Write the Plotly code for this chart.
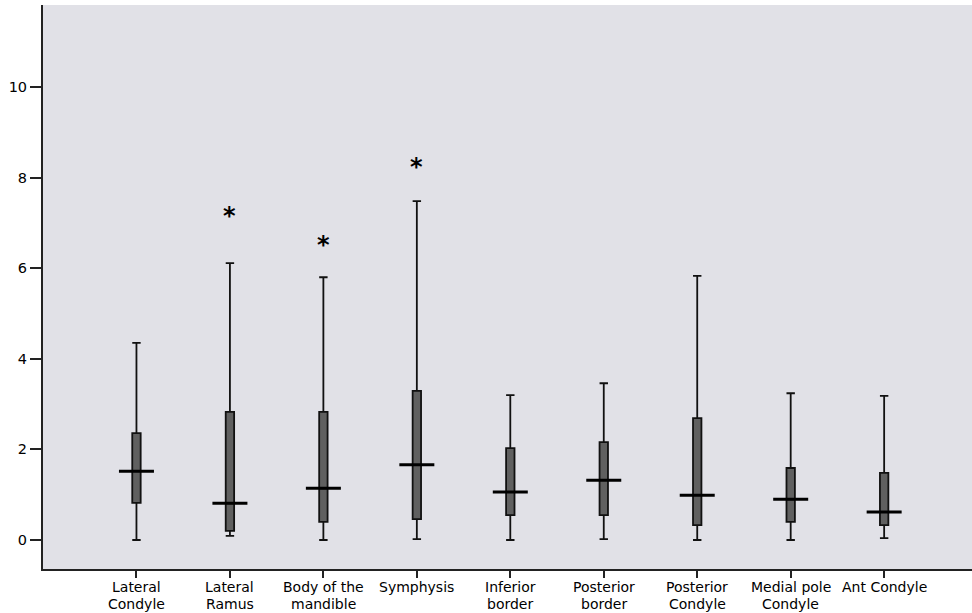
import plotly.graph_objects as go

categories = ["Lateral\nCondyle", "Lateral\nRamus", "Body of the\nmandible", "Symphysis",
              "Inferior\nborder", "Posterior\nborder", "Posterior\nCondyle",
              "Medial pole\nCondyle", "Ant Condyle"]
lower = [0.0, 0.09, 0.0, 0.02, 0.0, 0.02, 0.0, 0.0, 0.04]
q1 = [0.82, 0.20, 0.40, 0.46, 0.55, 0.55, 0.33, 0.40, 0.33]
median = [1.52, 0.81, 1.14, 1.66, 1.06, 1.32, 0.99, 0.90, 0.62]
q3 = [2.36, 2.83, 2.83, 3.29, 2.03, 2.16, 2.69, 1.59, 1.48]
upper = [4.35, 6.11, 5.80, 7.48, 3.20, 3.46, 5.83, 3.24, 3.18]
outlier_cat = [1, 2, 3]
outlier_val = [7.24, 6.60, 8.32]
y_ticks = [0, 2, 4, 6, 8, 10]

FONT = "DejaVu Sans, Liberation Sans, Arial, sans-serif"
xs = list(range(len(categories)))

fig = go.Figure()
fig.add_trace(go.Box(
    x=xs, q1=q1, median=median, q3=q3, lowerfence=lower, upperfence=upper,
    width=0.09, whiskerwidth=1.0,
    fillcolor="#606060", line=dict(color="#111111", width=1.8),
    boxpoints=False, showlegend=False, hoverinfo="skip",
))
fig.add_trace(go.Scatter(
    x=xs, y=median, mode="markers",
    marker=dict(symbol="line-ew", size=25, line=dict(color="#000000", width=3)),
    showlegend=False, hoverinfo="skip",
))

# outlier asterisks
for c, v in zip(outlier_cat, outlier_val):
    fig.add_annotation(x=c, y=v, xref="x", yref="y", text="<b>*</b>", showarrow=False,
                       font=dict(family=FONT, size=24, color="#000000"), yshift=-4)

# two-line category labels with tight line spacing
for i, lab in enumerate(categories):
    lines = lab.split("\n")
    for j, ln in enumerate(lines):
        fig.add_annotation(x=i, y=0, xref="x", yref="paper", text=ln, showarrow=False,
                           xanchor="center", yanchor="middle", yshift=-18 - 16.5 * j,
                           borderpad=0,
                           font=dict(family=FONT, size=14, color="#000000"))

fig.update_layout(
    width=972, height=613,
    margin=dict(l=43, r=0, t=5, b=44),
    paper_bgcolor="#ffffff", plot_bgcolor="#e1e1e7",
    font=dict(family=FONT, size=14, color="#000000"),
)
fig.update_xaxes(
    range=[-1.0, 8.94], tickmode="array", tickvals=xs, showticklabels=False,
    showgrid=False, zeroline=False, showline=True, linecolor="#222222", linewidth=2,
    ticks="outside", ticklen=7, tickwidth=2, tickcolor="#222222",
)
fig.update_yaxes(
    range=[-0.64, 11.81], tickmode="array", tickvals=y_ticks,
    showgrid=False, zeroline=False, showline=True, linecolor="#222222", linewidth=2,
    ticks="outside", ticklen=11, tickwidth=1.5, tickcolor="#222222",
    tickfont=dict(family=FONT, size=14.5),
)
fig.write_html("out.html", config={"displayModeBar": False},
               post_script="document.body.style.margin='0';document.body.style.padding='0';")
